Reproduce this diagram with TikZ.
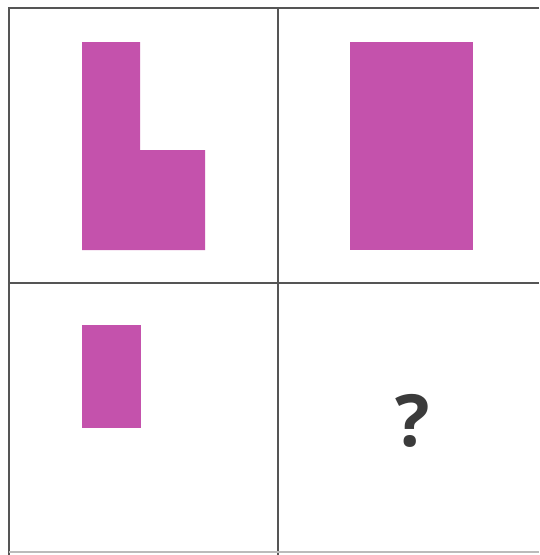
\documentclass[tikz,border=0pt]{standalone}
\usepackage{fontspec}
\newfontfamily\qfont{Open Sans}
\definecolor{shape}{RGB}{196,82,172}
\definecolor{gridc}{RGB}{85,85,85}
\begin{document}
\begin{tikzpicture}[x=1pt,y=-1pt,
  gridline/.style={draw=gridc,line width=2pt},
  piece/.style={fill=shape,draw=none}]
\useasboundingbox (0,0) rectangle (539,555);
\fill[white] (0,0) rectangle (539,555);
% grid
\coordinate (tl) at (9,8);
\coordinate (tr) at (539,8);
\coordinate (bl) at (9,555);
\draw[gridline] (tr) -- (tl) -- (bl);
\draw[gridline] (278,8) -- (278,555);
\draw[gridline] (9,283) -- (539,283);
\draw[draw=gridc!40,line width=1.5pt] (9,552) -- (539,552);
% shapes
\path[piece] (82,42) -- (140,42) -- (140,150) -- (205,150) -- (205,250) -- (82,250) -- cycle;
\path[piece] (350,42) rectangle (473,250);
\path[piece] (82,325) rectangle (141,428);
\node[text=gridc!70!black,font=\qfont\bfseries\fontsize{72}{72}\selectfont,inner sep=0pt] (q) at (413,421) {?};
\end{tikzpicture}
\end{document}
